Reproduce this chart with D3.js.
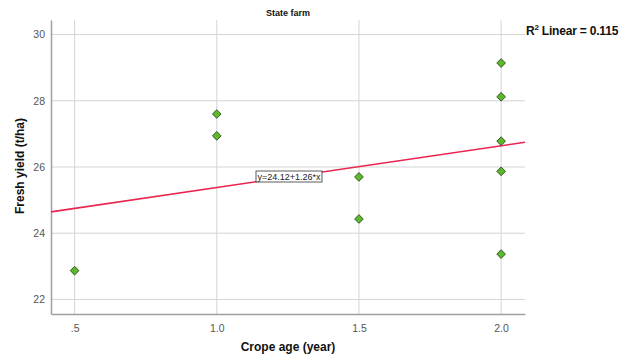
<!DOCTYPE html>
<html><head><meta charset="utf-8">
<script src="https://cdn.jsdelivr.net/npm/d3@7"></script>
<style>body{margin:0;background:#fff}svg{display:block}text{font-family:Arial,"Liberation Sans",sans-serif}</style>
</head><body>
<svg id="c" width="634" height="360"></svg>
<script>
const xValues = [0.5, 1.0, 1.0, 1.5, 1.5, 2.0, 2.0, 2.0, 2.0, 2.0];
const yValues = [22.87, 27.60, 26.94, 25.70, 24.43, 29.14, 28.12, 26.78, 25.87, 23.37];
const xTicks = [0.5, 1.0, 1.5, 2.0];
const xTickLabels = [".5", "1.0", "1.5", "2.0"];
const yTicks = [22, 24, 26, 28, 30];
const fit = {intercept: 24.12, slope: 1.26, r2: 0.115};

const svg = d3.select("#c");
const L = 51, R = 525, T = 20, B = 314;
const x = d3.scaleLinear().domain([0.417, 2.084]).range([L, R]);
const y = d3.scaleLinear().domain([21.56, 30.44]).range([B, T]);

// grid
svg.append("g").selectAll("line").data(yTicks).join("line")
  .attr("x1", L).attr("x2", R).attr("y1", d => y(d)).attr("y2", d => y(d))
  .attr("stroke", "#d4d4d4").attr("stroke-width", 1);
svg.append("g").selectAll("line").data(xTicks).join("line")
  .attr("y1", T).attr("y2", B).attr("x1", d => x(d)).attr("x2", d => x(d))
  .attr("stroke", "#d4d4d4").attr("stroke-width", 1);

// axes
const xa = svg.append("g").attr("transform", `translate(0,${B})`)
  .call(d3.axisBottom(x).tickValues(xTicks).tickFormat((d,i) => xTickLabels[i]).tickSize(0).tickPadding(11));
const ya = svg.append("g").attr("transform", `translate(${L},0)`)
  .call(d3.axisLeft(y).tickValues(yTicks).tickFormat(d3.format("d")).tickSize(0).tickPadding(6));
[xa, ya].forEach(a => {
  a.select(".domain").attr("stroke", "#a0a0a0").attr("stroke-width", 1.5);
  a.selectAll("text").attr("fill", "#555").attr("font-size", 10.5);
});

// regression line
const xd = x.domain();
svg.append("line")
  .attr("x1", x(xd[0])).attr("y1", y(fit.intercept + fit.slope * xd[0]))
  .attr("x2", x(xd[1])).attr("y2", y(fit.intercept + fit.slope * xd[1]))
  .attr("stroke", "#e8244f").attr("stroke-width", 1.6);

// points
const sym = d3.symbol().type(d3.symbolDiamond2).size(48);
svg.append("g").selectAll("path").data(xValues.map((v,i)=>[v,yValues[i]])).join("path")
  .attr("d", sym)
  .attr("transform", d => `translate(${x(d[0])},${y(d[1])})`)
  .attr("fill", "#5cb82c").attr("stroke", "#2b4a1a").attr("stroke-width", 0.9);

// equation label
const eq = svg.append("g");
eq.append("rect").attr("x", 256).attr("y", 171).attr("width", 66).attr("height", 11)
  .attr("fill", "#fff").attr("stroke", "#333").attr("stroke-width", 0.8);
eq.append("text").attr("x", 289).attr("y", 179.5).attr("text-anchor", "middle")
  .attr("font-size", 9).attr("fill", "#222").text(`y=${fit.intercept}+${fit.slope}*x`);

// title
svg.append("text").attr("x", 288).attr("y", 16).attr("text-anchor", "middle")
  .attr("font-size", 9).attr("font-weight", "bold").attr("fill", "#111").text("State farm");

// axis titles
svg.append("text").attr("x", 288).attr("y", 351).attr("text-anchor", "middle")
  .attr("font-size", 12).attr("font-weight", "bold").attr("fill", "#111").text("Crope age (year)");
svg.append("text").attr("transform", "translate(24,166) rotate(-90)").attr("text-anchor", "middle")
  .attr("font-size", 12).attr("font-weight", "bold").attr("fill", "#111").text("Fresh yield (t/ha)");

// R2 label
const r2 = svg.append("text").attr("x", 526).attr("y", 35).attr("font-size", 12).attr("font-weight", "bold").attr("fill", "#111").attr("letter-spacing", -0.2);
r2.append("tspan").text("R");
r2.append("tspan").attr("font-size", 8).attr("dy", -5).text("2");
r2.append("tspan").attr("dy", 5).text(" Linear = " + fit.r2);
</script>
</body></html>
